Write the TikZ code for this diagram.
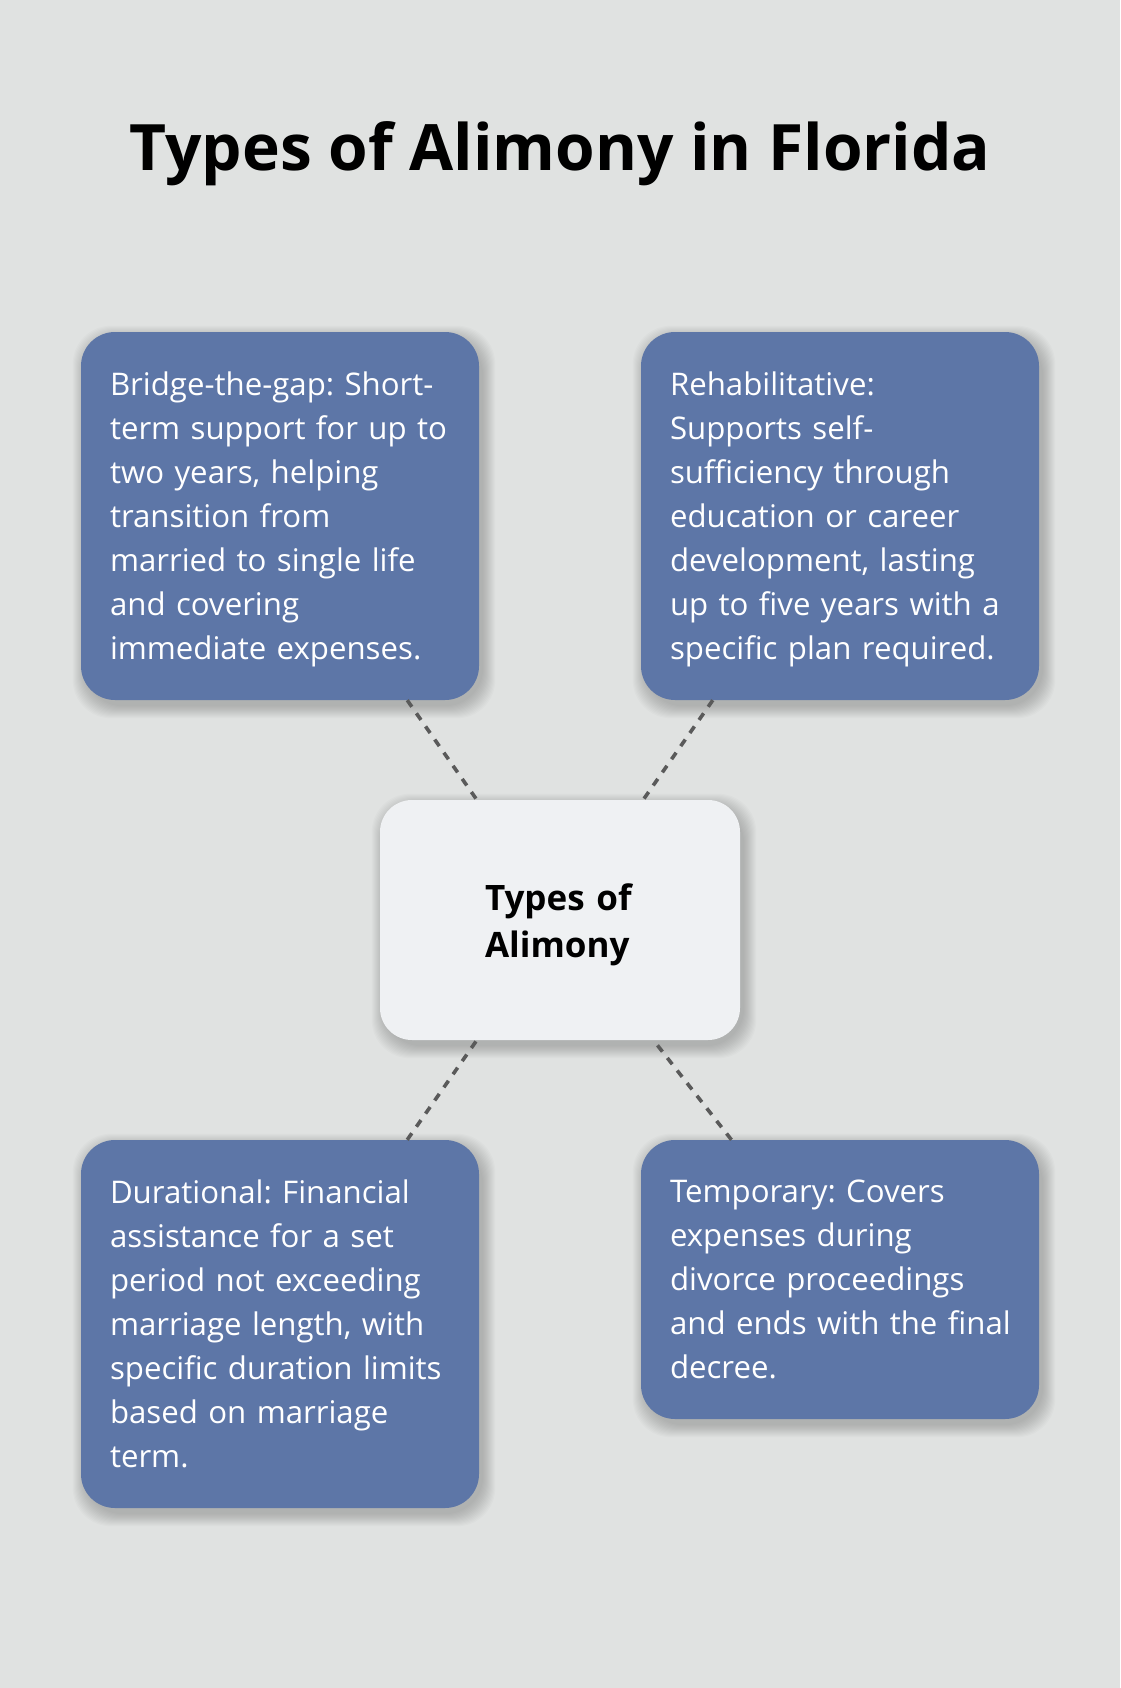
\documentclass[tikz,border=0pt]{standalone}
\usepackage{fontspec}
\setmainfont{Open Sans}
\frenchspacing
\hyphenpenalty=10000
\usetikzlibrary{backgrounds}
\definecolor{bgcol}{HTML}{E0E2E1}
\definecolor{cardblue}{HTML}{5D76A7}
\definecolor{hubcol}{HTML}{EFF1F3}
\definecolor{linkcol}{HTML}{5A5A5A}
\begin{document}
\begin{tikzpicture}[x=1pt, y=1pt, line join=round,
		card/.style={fill=cardblue, rounded corners=34pt, text=white, align=left, text width=340pt, inner xsep=29pt, inner ysep=0pt,
			font=\fontsize{31.2}{44}\selectfont,
			execute at begin node={\rule{0pt}{33pt}}, execute at end node={\rule[-11pt]{0pt}{11pt}}},
		hub/.style={fill=hubcol, rounded corners=32pt, align=left, text width=150pt, inner xsep=105pt, inner ysep=0pt, minimum height=240pt,
			font=\bfseries\fontsize{35}{47}\selectfont,
			execute at begin node={\rule{0pt}{38pt}}, execute at end node={\rule[-11pt]{0pt}{11pt}}},
		softshade/.style={fill=black, opacity=0.014, rounded corners=38pt},
		link/.style={draw=linkcol, line width=3.6pt, dash pattern=on 8pt off 8pt}]
			\useasboundingbox (0,0) rectangle (1120,-1688);
			\node[font=\bfseries\fontsize{64}{76}\selectfont] (title) at (560,-153.5) {Types of Alimony in Florida};
			\node[hub] (hub) at (560,-920) {Types~of\\Alimony};
			\node[card, minimum height=368pt] (bridge) at (280,-516) {Bridge-the-gap: Short-\\\mbox{term support for up to}\\two years, helping\\transition from\\married to single life\\and covering\\immediate expenses.};
			\node[card, minimum height=368pt] (rehab) at (840,-516) {Rehabilitative:\\Supports self-\\sufficiency through\\education or career\\development, lasting\\\mbox{up to five years with a}\\\mbox{specific plan required.}};
			\node[card, minimum height=368pt] (durat) at (280,-1324) {Durational: Financial\\assistance for a set\\period not exceeding\\marriage length, with\\\mbox{specific duration limits}\\based on marriage\\term.};
			\node[card, minimum height=279pt] (temp) at (840,-1279.5) {Temporary: Covers\\expenses during\\divorce proceedings\\\mbox{and ends with the final}\\decree.};
			\draw[link] (bridge)--(hub);
			\draw[link] (rehab)--(hub);
			\draw[link] (durat)--(hub);
			\draw[link] (temp)--(hub);
			\begin{scope}[on background layer]
				\fill[bgcol] (0,0) rectangle (1120,-1688);
				\foreach \n in {bridge,rehab,durat,temp,hub}
					\foreach \k in {0,...,12}
						\fill[softshade] ([shift={(4-\k,-6-\k)}]\n.south west) rectangle ([shift={(4+\k,-6+\k)}]\n.north east);
			\end{scope}
		\end{tikzpicture}
\end{document}
